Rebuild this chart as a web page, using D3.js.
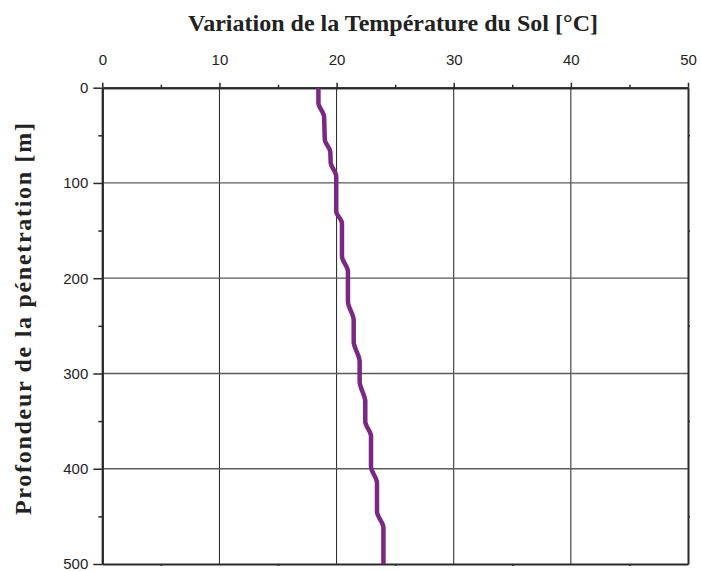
<!DOCTYPE html>
<html>
<head>
<meta charset="utf-8">
<script src="https://cdn.jsdelivr.net/npm/d3@7"></script>
<style>
  html, body { margin: 0; padding: 0; background: #fff; }
  svg { display: block; }
</style>
</head>
<body>
<svg id="chart" width="701" height="571"></svg>
<script>
// Soil temperature profile: temperature (°C) versus penetration depth (m)
const depthM = [0, 16, 30, 55, 67, 79, 93, 130, 142, 177, 193, 224.5, 244, 266.5, 287.5, 308.5, 329.5, 350.5, 366, 397.7, 415, 445, 462, 500];
const temperatureC = [18.45, 18.45, 18.93, 19.0, 19.46, 19.5, 19.97, 19.97, 20.46, 20.46, 20.97, 20.97, 21.46, 21.46, 21.97, 21.97, 22.45, 22.45, 22.94, 22.94, 23.45, 23.45, 24.0, 24.0];

const xMajorTicks = [0, 10, 20, 30, 40, 50];
const xMinorTicks = [5, 15, 25, 35, 45];
const yMajorTicks = [0, 100, 200, 300, 400, 500];
const yMinorTicks = [50, 150, 250, 350, 450];

const xTitle = "Variation de la Température du Sol [°C]";
const yTitle = "Profondeur de la pénetration [m]";

const svg = d3.select("#chart");
const plotLeft = 102.3, plotRight = 688, plotTop = 87.7, plotBottom = 564;

const x = d3.scaleLinear().domain([0, 50]).range([plotLeft, plotRight]);
const y = d3.scaleLinear().domain([0, 500]).range([plotTop, plotBottom]);

const sansFont = "'Liberation Sans', Arial, sans-serif";
const serifFont = "'Liberation Serif', 'Times New Roman', serif";

// grid lines
svg.append("g")
  .selectAll("line")
  .data(xMajorTicks.slice(1, -1))
  .join("line")
  .attr("x1", d => x(d)).attr("x2", d => x(d))
  .attr("y1", plotTop).attr("y2", plotBottom)
  .attr("stroke", "#222").attr("stroke-width", 1);

svg.append("g")
  .selectAll("line")
  .data(yMajorTicks.slice(1, -1))
  .join("line")
  .attr("x1", plotLeft).attr("x2", plotRight)
  .attr("y1", d => y(d)).attr("y2", d => y(d))
  .attr("stroke", "#5a5a5a").attr("stroke-width", 1.3);

// axes
function styleAxis(g) {
  g.selectAll(".domain").attr("stroke", "#2a2a2a").attr("stroke-width", 2);
  g.selectAll(".tick line").attr("stroke", "#2a2a2a").attr("stroke-width", 1.5);
  g.selectAll(".tick text")
    .attr("font-family", sansFont).attr("font-size", 15).attr("fill", "#222");
}

svg.append("g")
  .attr("transform", `translate(0,${plotTop})`)
  .call(d3.axisTop(x).tickValues(xMajorTicks).tickSize(5).tickSizeOuter(0).tickPadding(18).tickFormat(d3.format("d")))
  .call(styleAxis);
svg.append("g")
  .attr("transform", `translate(0,${plotTop})`)
  .call(d3.axisTop(x).tickValues(xMinorTicks).tickSize(3).tickSizeOuter(0).tickFormat(""))
  .call(styleAxis);

svg.append("g")
  .attr("transform", `translate(${plotLeft},0)`)
  .call(d3.axisLeft(y).tickValues(yMajorTicks).tickSize(9).tickSizeOuter(0).tickPadding(5).tickFormat(d3.format("d")))
  .call(styleAxis);
svg.append("g")
  .attr("transform", `translate(${plotLeft},0)`)
  .call(d3.axisLeft(y).tickValues(yMinorTicks).tickSize(4).tickSizeOuter(0).tickFormat(""))
  .call(styleAxis);

svg.append("g")
  .attr("transform", `translate(${plotRight},0)`)
  .call(d3.axisRight(y).tickValues(yMinorTicks).tickSize(2).tickSizeOuter(0).tickFormat(""))
  .call(styleAxis);

svg.append("g")
  .attr("transform", `translate(0,${plotBottom})`)
  .call(d3.axisBottom(x).tickValues(xMinorTicks).tickSize(2).tickSizeOuter(0).tickFormat(""))
  .call(styleAxis);

// temperature profile
const profile = d3.line()
  .x((d, i) => x(temperatureC[i]))
  .y(d => y(d))
  .curve(d3.curveMonotoneY);

svg.append("path")
  .attr("d", profile(depthM))
  .attr("fill", "none")
  .attr("stroke", "#7b2784")
  .attr("stroke-width", 4.5)
  .attr("stroke-linejoin", "round");

// titles
svg.append("text")
  .attr("x", 393)
  .attr("y", 31)
  .attr("text-anchor", "middle")
  .attr("font-family", serifFont)
  .attr("font-weight", "bold")
  .attr("font-size", 24)
  .attr("textLength", 410)
  .attr("lengthAdjust", "spacing")
  .attr("fill", "#222")
  .text(xTitle);

svg.append("text")
  .attr("transform", `translate(31,319) rotate(-90)`)
  .attr("text-anchor", "middle")
  .attr("font-family", serifFont)
  .attr("font-weight", "bold")
  .attr("font-size", 24)
  .attr("textLength", 392)
  .attr("lengthAdjust", "spacing")
  .attr("fill", "#222")
  .text(yTitle);
</script>
</body>
</html>
